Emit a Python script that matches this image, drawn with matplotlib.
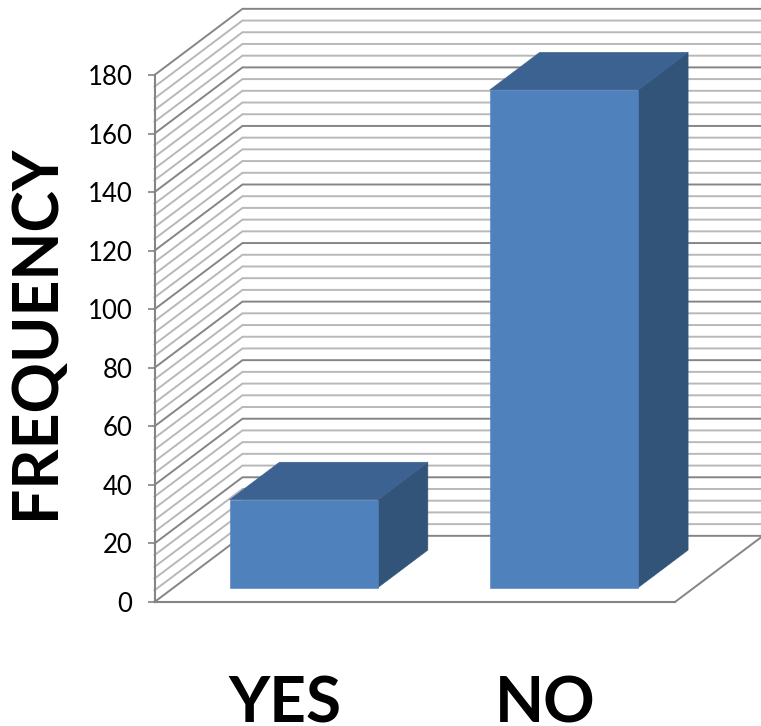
import matplotlib
matplotlib.use("Agg")
import matplotlib.pyplot as plt
from matplotlib.patches import Polygon
import numpy as np

categories = ["YES", "NO"]
values = [30, 170]
y_ticks = [0, 20, 40, 60, 80, 100, 120, 140, 160, 180]
minor_step = 4

W, H = 761, 726
# how far the back wall is shifted from the front, in data units
depth_x = 0.338
depth_y = 22.6
bar_width = 0.57
bar_front = 0.217
bar_back = 0.785

GRID_MAJOR = "#858585"
GRID_MINOR = "#b8b8b8"
FRONT = "#4f81bd"
TOP = "#3c6291"
SIDE = "#325479"

plt.rcParams["font.family"] = ["Lato", "DejaVu Sans"]


def project(x, y, d):
    return (x + d * depth_x, y + d * depth_y)


fig = plt.figure(figsize=(W / 100, H / 100), dpi=100)
ax = fig.add_axes([154.5 / W, (H - 602) / H, (675 - 154.5) / W, (602 - 75) / H])
ax.set_xlim(0, 2)
ax.set_ylim(0, 180)
ax.patch.set_visible(False)

# side wall + back wall grid
for v in np.arange(0, 181, minor_step):
    major = v % 20 == 0
    color = GRID_MAJOR if major else GRID_MINOR
    p0 = project(0, v, 0)
    p1 = project(0, v, 1)
    p2 = project(2.2, v, 1)
    ax.plot([p0[0], p1[0], p2[0]], [p0[1], p1[1], p2[1]], color=color,
            lw=1.4, clip_on=False, zorder=1, solid_joinstyle="miter")

# floor right edge
p0 = project(2, 0, 0)
p1 = project(2, 0, 1)
ax.plot([p0[0], p1[0]], [p0[1], p1[1]], color=GRID_MAJOR, lw=1.4, clip_on=False, zorder=1)

# the bars, three faces each
for i, v in enumerate(values):
    x0 = i + 0.5 - bar_width / 2
    x1 = i + 0.5 + bar_width / 2
    front = [project(x0, 0, bar_front), project(x1, 0, bar_front),
             project(x1, v, bar_front), project(x0, v, bar_front)]
    top = [project(x0, v, bar_front), project(x1, v, bar_front),
           project(x1, v, bar_back), project(x0, v, bar_back)]
    side = [project(x1, 0, bar_front), project(x1, 0, bar_back),
            project(x1, v, bar_back), project(x1, v, bar_front)]
    for pts, col in [(side, SIDE), (top, TOP), (front, FRONT)]:
        ax.add_patch(Polygon(pts, closed=True, facecolor=col, edgecolor=col,
                             lw=0.4, clip_on=False, zorder=3))

for s in ["top", "right"]:
    ax.spines[s].set_visible(False)
for s in ["left", "bottom"]:
    ax.spines[s].set_color(GRID_MAJOR)
    ax.spines[s].set_linewidth(1.5)

ax.set_yticks(y_ticks)
ax.tick_params(axis="y", length=5, width=1.2, color=GRID_MAJOR, labelsize=18.5, pad=11,
               labelcolor="black")
ax.set_xticks([0.5, 1.5])
ax.set_xticklabels(categories, fontsize=46, fontweight="bold")
ax.tick_params(axis="x", length=0, pad=53)
ax.set_ylabel("FREQUENCY", fontsize=45, fontweight="bold")
ax.yaxis.set_label_coords(-0.172, 0.512)

fig.savefig("out.png", dpi=100)
